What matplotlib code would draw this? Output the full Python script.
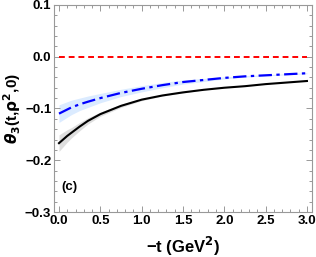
import numpy as np
import matplotlib.pyplot as plt
from matplotlib.ticker import MultipleLocator

plt.rcParams['font.family'] = ['Liberation Sans', 'DejaVu Sans']

# -t values (GeV^2)
t = [0.0, 0.05, 0.1, 0.15, 0.2, 0.25, 0.35, 0.5, 0.75, 1.0, 1.25, 1.5, 1.75,
     2.0, 2.25, 2.5, 2.75, 3.0]
# black solid curve and its band half-width
black = [-0.167, -0.160, -0.153, -0.147, -0.141, -0.135, -0.124, -0.111, -0.095,
         -0.083, -0.075, -0.069, -0.064, -0.060, -0.057, -0.053, -0.050, -0.047]
black_err = [0.016, 0.014, 0.012, 0.010, 0.009, 0.008, 0.006, 0.004, 0.003,
             0.002, 0.001, 0.001, 0.0, 0.0, 0.0, 0.0, 0.0, 0.0]
# blue dash-dot curve and its band half-width
blue = [-0.110, -0.106, -0.102, -0.098, -0.095, -0.092, -0.087, -0.080, -0.070,
        -0.062, -0.055, -0.049, -0.045, -0.041, -0.038, -0.036, -0.034, -0.032]
blue_err = [0.017, 0.016, 0.015, 0.014, 0.013, 0.012, 0.011, 0.009, 0.007,
            0.006, 0.005, 0.004, 0.003, 0.002, 0.0015, 0.001, 0.001, 0.001]
# red dashed reference curve
red = [0.0] * len(t)

t = np.array(t)
black = np.array(black); black_err = np.array(black_err)
blue = np.array(blue); blue_err = np.array(blue_err)

fig = plt.figure(figsize=(3.16, 2.57), dpi=100)
ax = fig.add_axes([0.171, 0.175, 0.816, 0.806])

ax.fill_between(t, blue - blue_err, blue + blue_err, color=(0.86, 0.92, 1.0), lw=0)
ax.fill_between(t, black - black_err, black + black_err, color=(0.87, 0.87, 0.87), lw=0)
ax.plot(t, red, color='red', lw=1.4, dashes=(3, 2))
ax.plot(t, blue, color=(0, 0, 1), lw=1.6, dashes=(6, 2, 1.5, 2))
ax.plot(t, black, color='black', lw=1.5)

ax.set_xlim(-0.06, 3.06)
ax.set_ylim(-0.3, 0.1)
ax.xaxis.set_minor_locator(MultipleLocator(0.1))
ax.yaxis.set_minor_locator(MultipleLocator(0.02))
ax.set_xticks([0, 0.5, 1.0, 1.5, 2.0, 2.5, 3.0])
ax.set_xticklabels(['0.0', '0.5', '1.0', '1.5', '2.0', '2.5', '3.0'])
ax.set_yticks([-0.3, -0.2, -0.1, 0.0, 0.1])
ax.set_yticklabels(['\u22120.3', '\u22120.2', '\u22120.1', '0.0', '0.1'])

for s in ax.spines.values():
    s.set_color((0.6, 0.6, 0.6))
    s.set_linewidth(0.8)
ax.tick_params(which='both', direction='in', top=True, right=True,
               color=(0.6, 0.6, 0.6), width=0.7)
ax.tick_params(which='major', length=4, labelsize=9.5, pad=2)
ax.tick_params(which='minor', length=2)
for lab in ax.get_xticklabels() + ax.get_yticklabels():
    lab.set_fontweight('bold')

ax.set_xlabel('\u2212t (GeV$^\\mathbf{2}$)', fontsize=12, fontweight='bold', labelpad=6)
ax.set_ylabel('$\\boldsymbol{\\theta}_\\mathbf{3}$(t,$\\mathbf{\\rho}^\\mathbf{2}$,0)',
              fontsize=11, fontweight='bold', labelpad=1)
ax.text(0.03, -0.252, '(c)', fontsize=9.5, fontweight='bold', va='center')

fig.savefig('out.png', dpi=100)
